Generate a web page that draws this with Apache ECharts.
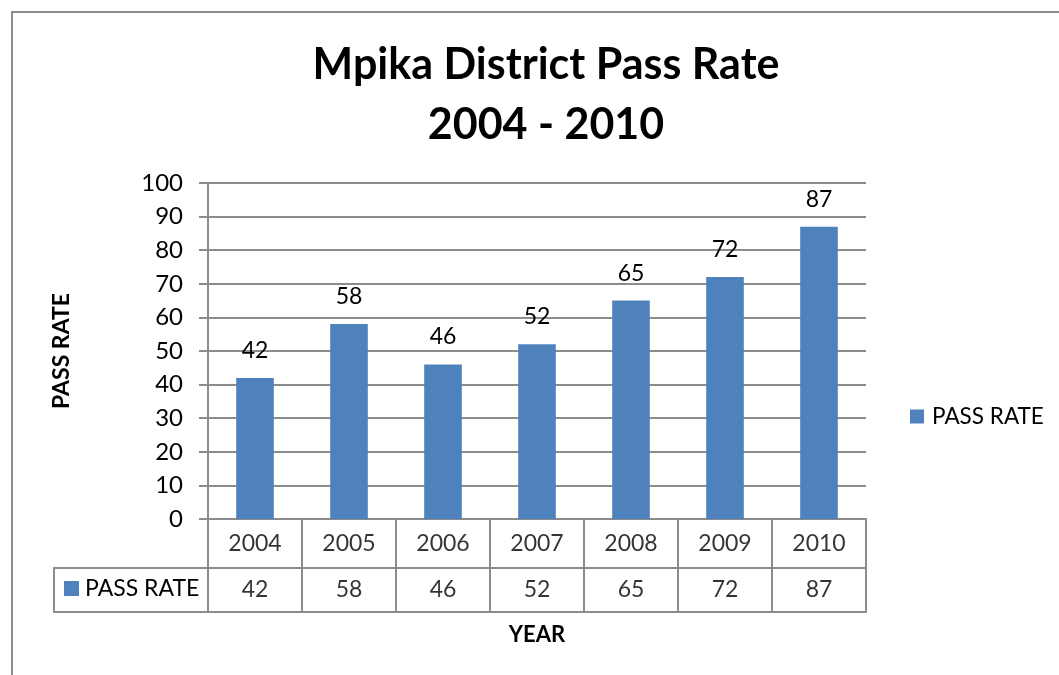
<!DOCTYPE html>
<html>
<head>
<meta charset="utf-8">
<script src="https://cdn.jsdelivr.net/npm/echarts@6/dist/echarts.min.js"></script>
<style>html,body{margin:0;padding:0;background:#fff;}#c{width:1059px;height:675px;}</style>
</head>
<body>
<div id="c"></div>
<script>
const categories = ['2004', '2005', '2006', '2007', '2008', '2009', '2010'];
const passRate = [42, 58, 46, 52, 65, 72, 87];
const seriesName = 'PASS RATE';
const yMin = 0, yMax = 100, yInterval = 10;

const FONT = 'Lato';
const GRAY = '#8c8c8c';
const BLUE = '#4F81BD';
const L = 208, R = 1059 - 866;

const chart = echarts.init(document.getElementById('c'));
const rowCell = (h) => ({ show: true, left: L, right: R, height: h, borderColor: GRAY, borderWidth: 2 });
chart.setOption({
  animation: false,
  title: {
    text: 'Mpika District Pass Rate\n2004 - 2010',
    left: 541, top: 30, textAlign: 'center',
    textStyle: { fontFamily: FONT, fontWeight: 'bold', fontSize: 43, lineHeight: 60, color: '#000' }
  },
  legend: {
    data: [seriesName], left: 910, top: 405, padding: 0, icon: 'rect', itemWidth: 14, itemHeight: 14,
    textStyle: { fontFamily: FONT, fontSize: 22.5, color: '#000', padding: [0, 0, 0, 3] }
  },
  grid: [
    { left: L, right: R, top: 183, height: 336 },
    Object.assign(rowCell(49), { top: 519 }),
    Object.assign(rowCell(44), { top: 568 })
  ],
  xAxis: [
    { gridIndex: 0, type: 'category', data: categories, axisLine: { show: false }, axisTick: { show: false }, axisLabel: { show: false } },
    { gridIndex: 1, type: 'category', data: categories, axisLine: { show: false }, axisTick: { show: false }, axisLabel: { show: false },
      splitLine: { show: true, lineStyle: { color: GRAY, width: 2 } } },
    { gridIndex: 2, type: 'category', data: categories, axisLine: { show: false }, axisTick: { show: false }, axisLabel: { show: false },
      splitLine: { show: true, lineStyle: { color: GRAY, width: 2 } },
      name: 'YEAR', nameLocation: 'middle', nameGap: 12,
      nameTextStyle: { fontFamily: FONT, fontWeight: 'bold', fontSize: 22, color: '#000' } }
  ],
  yAxis: [
    { gridIndex: 0, type: 'value', min: yMin, max: yMax, interval: yInterval,
      axisLine: { show: true, lineStyle: { color: GRAY, width: 2 } },
      axisTick: { show: true, length: 9, lineStyle: { color: GRAY, width: 2 } },
      splitLine: { show: true, lineStyle: { color: GRAY, width: 2 } },
      axisLabel: { fontFamily: FONT, fontSize: 24, color: '#000', margin: 25 },
      name: seriesName, nameLocation: 'middle', nameGap: 135, nameRotate: 90,
      nameTextStyle: { fontFamily: FONT, fontWeight: 'bold', fontSize: 23, color: '#000' } },
    { gridIndex: 1, type: 'value', min: 0, max: 1, show: false },
    { gridIndex: 2, type: 'value', min: 0, max: 1, show: false }
  ],
  series: [
    { name: seriesName, type: 'bar', xAxisIndex: 0, yAxisIndex: 0, data: passRate, barWidth: '40%',
      itemStyle: { color: BLUE },
      label: { show: true, position: 'top', distance: 16, fontFamily: FONT, fontSize: 23, color: '#000' } },
    { type: 'scatter', xAxisIndex: 1, yAxisIndex: 1, symbolSize: 0.1, silent: true,
      data: categories.map(c => [c, 0.5]),
      label: { show: true, position: 'inside', formatter: p => p.value[0], fontFamily: FONT, fontSize: 23, color: '#000' } },
    { type: 'scatter', xAxisIndex: 2, yAxisIndex: 2, symbolSize: 0.1, silent: true,
      data: categories.map((c, i) => [c, 0.5, passRate[i]]),
      label: { show: true, position: 'inside', formatter: p => String(p.value[2]), fontFamily: FONT, fontSize: 23, color: '#000' } }
  ],
  graphic: [
    { type: 'rect', shape: { x: 12, y: 12, width: 1200, height: 800 }, style: { fill: null, stroke: GRAY, lineWidth: 2 }, silent: true },
    { type: 'rect', shape: { x: 54, y: 568, width: 154, height: 44 }, style: { fill: null, stroke: GRAY, lineWidth: 2 }, silent: true },
    { type: 'rect', shape: { x: 64, y: 581, width: 15, height: 15 }, style: { fill: BLUE }, silent: true },
    { type: 'text', x: 85, y: 589, style: { text: seriesName, fontFamily: FONT, fontSize: 23, fill: '#000', verticalAlign: 'middle' }, silent: true }
  ]
});
</script>
</body>
</html>
